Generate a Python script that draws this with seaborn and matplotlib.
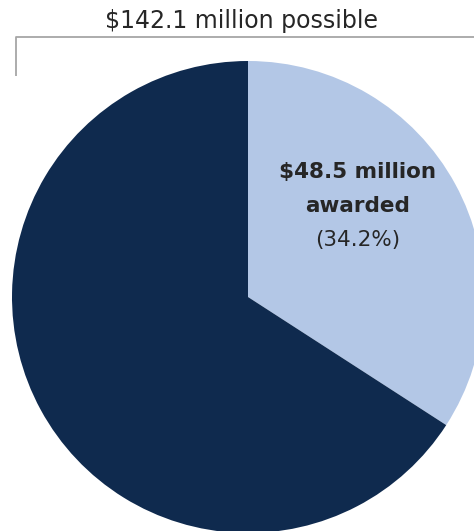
import matplotlib
matplotlib.use("Agg")
import matplotlib.pyplot as plt
import seaborn as sns

# Grant dollars (millions)
categories = ["Awarded", "Not awarded"]
amounts = [48.5, 142.1 - 48.5]
total_label = "$142.1 million possible"
awarded_lines = ["$48.5 million", "awarded"]
share_label = "(34.2%)"

colors = ["#B3C7E6", "#0F2A4E"]

sns.set_theme(style="white")
plt.rcParams["font.family"] = ["DejaVu Sans"]

W, H = 474, 531
fig = plt.figure(figsize=(W / 100, H / 100), dpi=100)
ax = fig.add_axes([0, 0, 1, 1])

cx, cy, r = 248, H - 297, 236
ax.pie(amounts, colors=colors, startangle=90, counterclock=False,
       center=(cx, cy), radius=r, wedgeprops=dict(linewidth=0))

ax.set_xlim(0, W)
ax.set_ylim(0, H)
ax.set_aspect("equal")
ax.axis("off")

# Bracket spanning the whole total
ax.plot([16, 16, W], [H - 76, H - 37, H - 37], color="#A6A6A6", lw=1.3,
        solid_capstyle="butt", clip_on=False)
ax.text(242, H - 21, total_label, ha="center", va="center",
        fontsize=17, color="#262626")

ax.text(358, H - 172, awarded_lines[0], ha="center", va="center",
        fontsize=15.5, fontweight="bold", color="#262626")
ax.text(358, H - 206, awarded_lines[1], ha="center", va="center",
        fontsize=15.5, fontweight="bold", color="#262626")
ax.text(358, H - 240, share_label, ha="center", va="center",
        fontsize=15.5, color="#262626")

fig.savefig("out.png", dpi=100)
